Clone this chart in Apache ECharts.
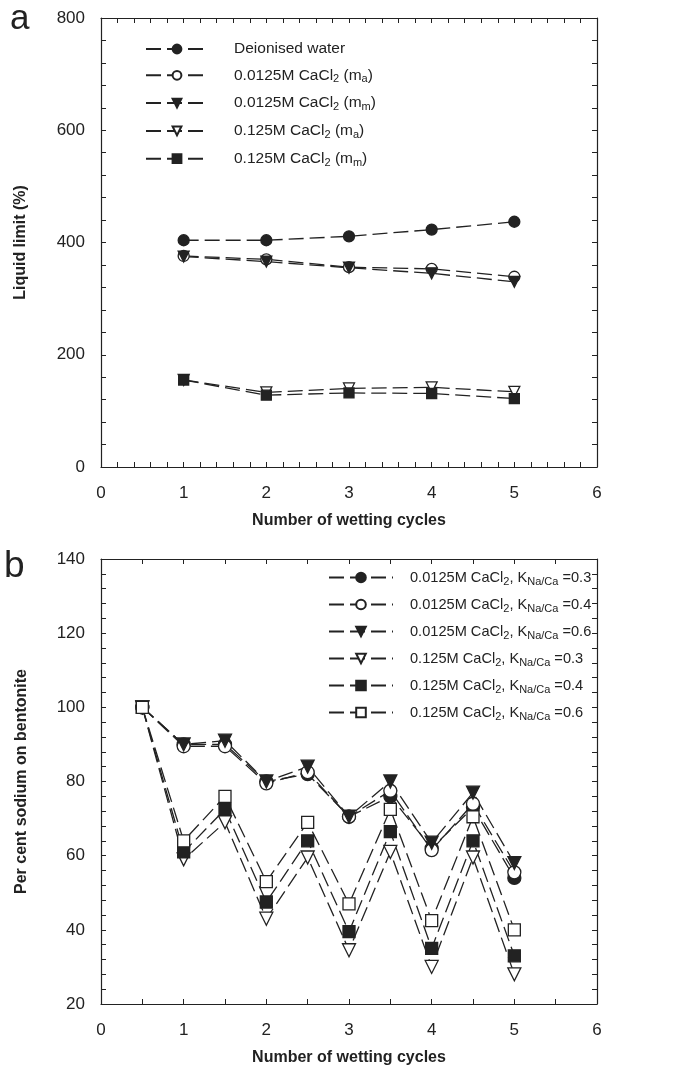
<!DOCTYPE html>
<html><head><meta charset="utf-8">
<script src="https://cdn.jsdelivr.net/npm/echarts@6/dist/echarts.min.js"></script>
<style>html,body{margin:0;padding:0;background:#fff}#c{width:685px;height:1076px}</style>
</head><body><div id="c"></div>
<script>
// ---- Panel a: liquid limit ----
const cyclesA = [1, 2, 3, 4, 5];
const deionised = [404, 404, 411, 423, 437];
const ca0125_ma = [376, 370, 356, 353, 339];
const ca0125_mm = [375, 366, 355, 345, 330];
const ca125_ma = [155, 133, 140, 142, 134];
const ca125_mm = [155, 128, 132, 131, 122];
const namesA = ['Deionised water', '0.0125M CaCl2 (ma)', '0.0125M CaCl2 (mm)', '0.125M CaCl2 (ma)', '0.125M CaCl2 (mm)'];
const richNamesA = ['Deionised water', '0.0125M CaCl{s|2} (m{s|a})', '0.0125M CaCl{s|2} (m{s|m})', '0.125M CaCl{s|2} (m{s|a})', '0.125M CaCl{s|2} (m{s|m})'];

// ---- Panel b: per cent sodium ----
const cyclesB = [0.5, 1, 1.5, 2, 2.5, 3, 3.5, 4, 4.5, 5];
const b0125_03 = [100, 90, 90, 80, 82, 70.5, 76, 62, 73, 54];
const b0125_04 = [100, 89.5, 89.5, 79.5, 82.5, 70.5, 77.5, 61.5, 74, 55.5];
const b0125_06 = [100, 90, 91, 80, 84, 70.5, 80, 63.5, 77, 58];
const b125_03 = [100, 59, 69, 43, 59.5, 34.5, 61, 30, 59.5, 28];
const b125_04 = [100, 61, 72.5, 47.5, 64, 39.5, 66.5, 35, 64, 33];
const b125_06 = [100, 64, 76, 53, 69, 47, 72.5, 42.5, 70.5, 40];
const namesB = ['0.0125M CaCl2, KNa/Ca =0.3', '0.0125M CaCl2, KNa/Ca =0.4', '0.0125M CaCl2, KNa/Ca =0.6', '0.125M CaCl2, KNa/Ca =0.3', '0.125M CaCl2, KNa/Ca =0.4', '0.125M CaCl2, KNa/Ca =0.6'];
const richNamesB = ['0.0125M CaCl{s|2}, K{s|Na/Ca} =0.3', '0.0125M CaCl{s|2}, K{s|Na/Ca} =0.4', '0.0125M CaCl{s|2}, K{s|Na/Ca} =0.6', '0.125M CaCl{s|2}, K{s|Na/Ca} =0.3', '0.125M CaCl{s|2}, K{s|Na/Ca} =0.4', '0.125M CaCl{s|2}, K{s|Na/Ca} =0.6'];

const INK = '#222';
const FONT = '"Liberation Sans", Arial, sans-serif';

function mk(name, xs, ys, symbol, filled, rot, size, gi) {
  return {
    name: name, type: 'line', xAxisIndex: gi * 2, yAxisIndex: gi * 2,
    data: xs.map((x, i) => [x, ys[i]]),
    symbol: symbol, symbolSize: size, symbolRotate: rot,
    showAllSymbol: true,
    lineStyle: { color: INK, width: 1.3, type: [15, 6] },
    itemStyle: { color: filled ? INK : '#fff', borderColor: INK, borderWidth: 1.3 },
    emphasis: { disabled: true }, animation: false, z: 3
  };
}

function xAx(gi, pos, show, minorSplit) {
  return {
    type: 'value', gridIndex: gi, position: pos, min: 0, max: 6, interval: 1,
    axisLine: { show: true, onZero: false, lineStyle: { color: INK, width: 1.2 } },
    axisTick: { show: true, inside: true, length: 5, lineStyle: { color: INK, width: 1 } },
    minorTick: { show: true, splitNumber: minorSplit, length: 5, lineStyle: { color: INK, width: 1 } },
    axisLabel: { show: show, fontSize: 17, color: INK, fontFamily: FONT, margin: 18 },
    splitLine: { show: false }, minorSplitLine: { show: false },
    name: show ? 'Number of wetting cycles' : '', nameLocation: 'middle', nameGap: 46,
    nameTextStyle: { fontSize: 16, fontWeight: 'bold', color: INK, fontFamily: FONT }
  };
}
function yAx(gi, pos, show, min, max, interval, minorSplit, title, gap) {
  return {
    type: 'value', gridIndex: gi, position: pos, min: min, max: max, interval: interval,
    axisLine: { show: true, onZero: false, lineStyle: { color: INK, width: 1.2 } },
    axisTick: { show: true, inside: true, length: 5, lineStyle: { color: INK, width: 1 } },
    minorTick: { show: true, splitNumber: minorSplit, length: 5, lineStyle: { color: INK, width: 1 } },
    axisLabel: { show: show, fontSize: 17, color: INK, fontFamily: FONT, margin: 16 },
    splitLine: { show: false }, minorSplitLine: { show: false },
    name: show ? title : '', nameLocation: 'middle', nameGap: gap,
    nameTextStyle: { fontSize: 16, fontWeight: 'bold', color: INK, fontFamily: FONT }
  };
}

function legendText(size, pad) {
  return {
    fontSize: size, color: INK, fontFamily: FONT, padding: [0, 0, 0, pad],
    rich: { s: { fontSize: 11, padding: [8, 0, 0, 0], fontFamily: FONT, color: INK } }
  };
}

const option = {
  backgroundColor: '#fff',
  animation: false,
  grid: [
    { left: 101, right: 88, top: 18, height: 449 },
    { left: 101, right: 88, top: 559, height: 445 }
  ],
  xAxis: [xAx(0, 'bottom', true, 5), xAx(0, 'top', false, 5), xAx(1, 'bottom', true, 2), xAx(1, 'top', false, 2)],
  yAxis: [
    yAx(0, 'left', true, 0, 800, 200, 5, 'Liquid limit (%)', 72),
    yAx(0, 'right', false, 0, 800, 200, 5, '', 0),
    yAx(1, 'left', true, 20, 140, 20, 5, 'Per cent sodium on bentonite', 71),
    yAx(1, 'right', false, 20, 140, 20, 5, '', 0)
  ],
  legend: [
    {
      data: namesA, orient: 'vertical', left: 140, top: 36, itemWidth: 62, itemHeight: 11, itemGap: 10.3,
      textStyle: legendText(15.5, 21), formatter: n => richNamesA[namesA.indexOf(n)], selectedMode: false
    },
    {
      data: namesB, orient: 'vertical', left: 323, top: 565, itemWidth: 64, itemHeight: 12, itemGap: 10,
      textStyle: legendText(14.6, 12), formatter: n => richNamesB[namesB.indexOf(n)], selectedMode: false
    }
  ],
  graphic: [
    { type: 'text', left: 10, top: 2, style: { text: 'a', fontSize: 35, fill: INK, fontFamily: FONT } },
    { type: 'text', left: 4, top: 548, style: { text: 'b', fontSize: 37, fill: INK, fontFamily: FONT } }
  ],
  series: [
    mk(namesA[0], cyclesA, deionised, 'circle', true, 0, 11, 0),
    mk(namesA[1], cyclesA, ca0125_ma, 'circle', false, 0, 11, 0),
    mk(namesA[2], cyclesA, ca0125_mm, 'triangle', true, 180, 11, 0),
    mk(namesA[3], cyclesA, ca125_ma, 'triangle', false, 180, 11, 0),
    mk(namesA[4], cyclesA, ca125_mm, 'rect', true, 0, 10, 0),
    mk(namesB[0], cyclesB, b0125_03, 'circle', true, 0, 13, 1),
    mk(namesB[1], cyclesB, b0125_04, 'circle', false, 0, 13, 1),
    mk(namesB[2], cyclesB, b0125_06, 'triangle', true, 180, 13, 1),
    mk(namesB[3], cyclesB, b125_03, 'triangle', false, 180, 13, 1),
    mk(namesB[4], cyclesB, b125_04, 'rect', true, 0, 12, 1),
    mk(namesB[5], cyclesB, b125_06, 'rect', false, 0, 12, 1)
  ]
};
const chart = echarts.init(document.getElementById('c'), null, { renderer: 'canvas' });
chart.setOption(option);
</script></body></html>
